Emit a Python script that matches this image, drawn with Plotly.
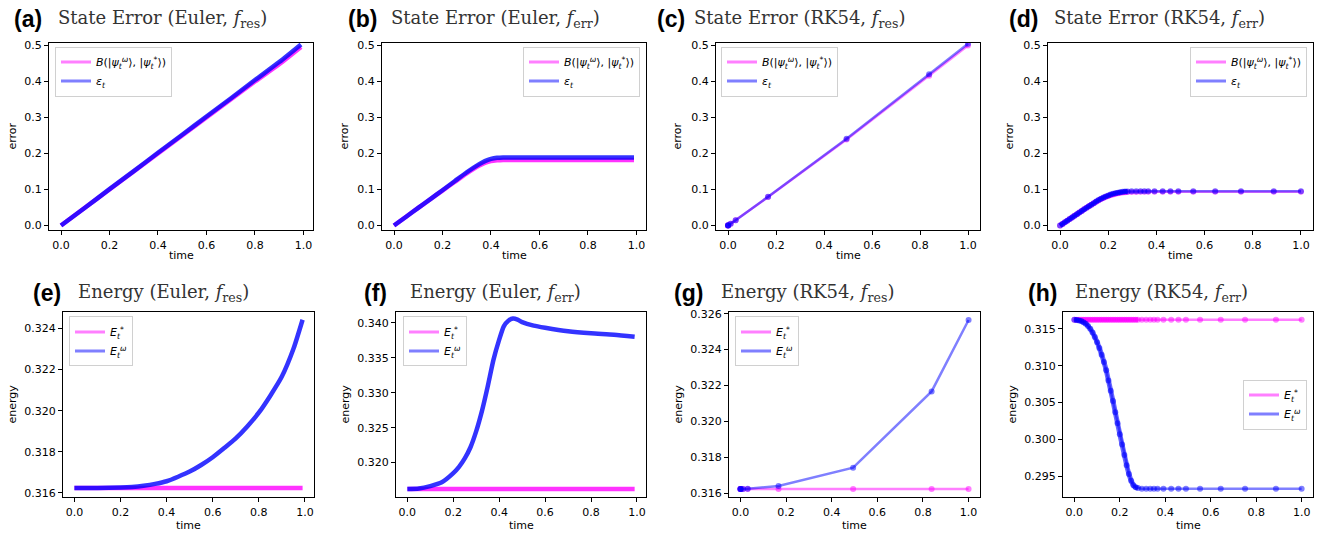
import plotly.graph_objects as go

W, H = 1335, 540

# ---------------- data ----------------
# (a) State error, Euler, f_res
t_a = [0.0, 0.1, 0.2, 0.3, 0.4, 0.5, 0.6, 0.7, 0.8, 0.9, 0.99]
B_a = [0.0, 0.050, 0.100, 0.150, 0.200, 0.250, 0.300, 0.350, 0.400, 0.448, 0.496]
eps_a = [0.0, 0.050, 0.101, 0.151, 0.202, 0.252, 0.303, 0.353, 0.404, 0.454, 0.503]

# (b) State error, Euler, f_err
t_b = [0.0, 0.05, 0.1, 0.15, 0.2, 0.25, 0.3, 0.35, 0.375, 0.4, 0.425, 0.45, 0.5, 0.6, 0.7, 0.8, 0.9, 0.99]
B_b = [0.0, 0.0245, 0.049, 0.073, 0.097, 0.121, 0.145, 0.166, 0.174, 0.179, 0.181, 0.182, 0.182, 0.182, 0.182, 0.182, 0.182, 0.182]
eps_b = [0.0, 0.0245, 0.049, 0.0735, 0.098, 0.123, 0.148, 0.170, 0.179, 0.185, 0.188, 0.189, 0.189, 0.189, 0.189, 0.189, 0.189, 0.189]

# (c) State error, RK54, f_res
t_c = [0.0, 0.0001, 0.0011, 0.0111, 0.032, 0.167, 0.494, 0.838, 1.0]
B_c = [0.0, 0.00005, 0.0005, 0.005, 0.0145, 0.079, 0.239, 0.416, 0.500]
eps_c = [0.0, 0.00005, 0.0005, 0.005, 0.0145, 0.080, 0.241, 0.420, 0.505]

# (d) State error, RK54, f_err  (first 29 steps are the densely stepped part)
t_d = [0.0, 0.01, 0.02, 0.03, 0.04, 0.05, 0.06, 0.07, 0.08, 0.09, 0.10, 0.11, 0.12, 0.13, 0.14,
       0.15, 0.16, 0.17, 0.18, 0.19, 0.20, 0.21, 0.22, 0.23, 0.24, 0.25, 0.26, 0.27, 0.28,
       0.297, 0.316, 0.334, 0.350, 0.366, 0.392, 0.426, 0.458, 0.491, 0.553, 0.644, 0.751, 0.887, 1.0]
B_d = [0.0, 0.0045, 0.009, 0.0135, 0.018, 0.0225, 0.027, 0.0315, 0.036, 0.0405, 0.045, 0.0494, 0.0537, 0.0579, 0.062,
       0.066, 0.0698, 0.0734, 0.0767, 0.0797, 0.0822, 0.0845, 0.0865, 0.0882, 0.0897, 0.0909, 0.0918, 0.0925, 0.0930,
       0.0933, 0.0934, 0.0935, 0.0935, 0.0935, 0.0935, 0.0935, 0.0935, 0.0935, 0.0935, 0.0935, 0.0935, 0.0935, 0.0935]
eps_d = [0.0, 0.0045, 0.009, 0.0135, 0.018, 0.0225, 0.027, 0.0315, 0.036, 0.0405, 0.045, 0.0494, 0.0537, 0.0579, 0.062,
         0.067, 0.0708, 0.0745, 0.0778, 0.0808, 0.0835, 0.0859, 0.0880, 0.0898, 0.0913, 0.0925, 0.0935, 0.0943, 0.0948,
         0.0952, 0.0954, 0.0955, 0.0955, 0.0955, 0.0955, 0.0955, 0.0955, 0.0955, 0.0955, 0.0955, 0.0955, 0.0955, 0.0955]

# (e) Energy, Euler, f_res
t_e = [0.0, 0.1, 0.2, 0.25, 0.3, 0.35, 0.4, 0.45, 0.5, 0.55, 0.6, 0.65, 0.7, 0.75, 0.8, 0.85, 0.9, 0.95, 0.99]
Estar_e = [0.31623] * 19
Ew_e = [0.31623, 0.31623, 0.31625, 0.31628, 0.31634, 0.31643, 0.31656, 0.31678, 0.31703, 0.31735, 0.31773,
        0.31818, 0.31865, 0.31923, 0.31990, 0.32073, 0.32166, 0.32300, 0.32443]

# (f) Energy, Euler, f_err
t_f = [0.0, 0.05, 0.1, 0.15, 0.2, 0.225, 0.25, 0.275, 0.3, 0.325, 0.35, 0.375, 0.4, 0.42, 0.44, 0.46,
       0.48, 0.5, 0.55, 0.6, 0.7, 0.8, 0.9, 0.99]
Estar_f = [0.31623] * 24
Ew_f = [0.31623, 0.31630, 0.31665, 0.31720, 0.31850, 0.31940, 0.32060, 0.32220, 0.32450, 0.32740, 0.33090,
        0.33470, 0.33760, 0.33950, 0.34030, 0.34060, 0.34045, 0.34010, 0.33960, 0.33930, 0.33880, 0.33850,
        0.33830, 0.33800]

# (g) Energy, RK54, f_res
t_g = t_c
Estar_g = [0.31623] * 9
Ew_g = [0.31623, 0.31623, 0.31623, 0.31623, 0.31624, 0.31640, 0.31742, 0.32167, 0.32565]

# (h) Energy, RK54, f_err
t_h = t_d
Estar_h = [0.31623] * 43
Ew_h = [0.31623, 0.31621, 0.31615, 0.31605, 0.31590, 0.31570, 0.31540, 0.31500, 0.31450, 0.31390, 0.31320,
        0.31240, 0.31150, 0.31050, 0.30940, 0.30800, 0.30660, 0.30520, 0.30370, 0.30220, 0.30070, 0.29930,
        0.29790, 0.29650, 0.29530, 0.29440, 0.29380, 0.29350, 0.29340, 0.29332, 0.29330, 0.29330, 0.29330,
        0.29330, 0.29330, 0.29330, 0.29330, 0.29330, 0.29330, 0.29330, 0.29330, 0.29330, 0.29330]

x_ticks = [0.0, 0.2, 0.4, 0.6, 0.8, 1.0]
y_ticks_err = [0.0, 0.1, 0.2, 0.3, 0.4, 0.5]
y_ticks_e = [0.316, 0.318, 0.320, 0.322, 0.324]
y_ticks_f = [0.315, 0.320, 0.325, 0.330, 0.335, 0.340]
y_ticks_g = [0.316, 0.318, 0.320, 0.322, 0.324, 0.326]
y_ticks_h = [0.295, 0.300, 0.305, 0.310, 0.315]

labels = ["(a)", "(b)", "(c)", "(d)", "(e)", "(f)", "(g)", "(h)"]
F_RES = "<i>f</i><sub>res</sub>"
F_ERR = "<i>f</i><sub>err</sub>"
titles = [f"State Error (Euler, {F_RES})", f"State Error (Euler, {F_ERR})",
          f"State Error (RK54, {F_RES})", f"State Error (RK54, {F_ERR})",
          f"Energy (Euler, {F_RES})", f"Energy (Euler, {F_ERR})",
          f"Energy (RK54, {F_RES})", f"Energy (RK54, {F_ERR})"]
name_B = "<i>B</i>(|<i>ψ</i><sub><i>t</i></sub><sup><i>ω</i></sup>⟩, |<i>ψ</i><sub><i>t</i></sub><sup>*</sup>⟩)"
name_eps = "<i>ε</i><sub><i>t</i></sub>"
name_Es = "<i>E</i><sub><i>t</i></sub><sup>*</sup>"
name_Ew = "<i>E</i><sub><i>t</i></sub><sup><i>ω</i></sup>"

# ---------------- layout geometry (pixels) ----------------
panels = [
    dict(px=(49, 313), py=(39, 229), xr=[-0.0495, 1.0395], yr=[-0.0137, 0.5082], yt=y_ticks_err, fmt=".1f",
         ylab="error", ylx=13, lab_x=12, tit_x=56, leg=(55, 43, "left", "top")),
    dict(px=(382, 646), py=(39, 229), xr=[-0.0495, 1.0395], yr=[-0.0137, 0.5082], yt=y_ticks_err, fmt=".1f",
         ylab="error", ylx=345, lab_x=346, tit_x=389, leg=(640, 43, "right", "top")),
    dict(px=(716, 980), py=(39, 229), xr=[-0.05, 1.05], yr=[-0.0137, 0.5082], yt=y_ticks_err, fmt=".1f",
         ylab="error", ylx=678, lab_x=655, tit_x=692, leg=(721, 43, "left", "top")),
    dict(px=(1048, 1313), py=(39, 229), xr=[-0.05, 1.05], yr=[-0.0137, 0.5082], yt=y_ticks_err, fmt=".1f",
         ylab="error", ylx=1010, lab_x=1007, tit_x=1052, leg=(1307, 43, "right", "top")),
    dict(px=(63, 314), py=(311, 499), xr=[-0.0495, 1.0395], yr=[0.31577, 0.32483], yt=y_ticks_e, fmt=".3f",
         ylab="energy", ylx=12, lab_x=31, tit_x=76, leg=(69, 316, "left", "top")),
    dict(px=(396, 646), py=(311, 499), xr=[-0.0495, 1.0395], yr=[0.31502, 0.34161], yt=y_ticks_f, fmt=".3f",
         ylab="energy", ylx=345, lab_x=362, tit_x=408, leg=(403, 316, "left", "top")),
    dict(px=(729, 980), py=(311, 499), xr=[-0.05, 1.05], yr=[0.31576, 0.32612], yt=y_ticks_g, fmt=".3f",
         ylab="energy", ylx=678, lab_x=672, tit_x=719, leg=(735, 316, "left", "top")),
    dict(px=(1063, 1313), py=(311, 499), xr=[-0.05, 1.05], yr=[0.29213, 0.31735], yt=y_ticks_h, fmt=".3f",
         ylab="energy", ylx=1012, lab_x=1026, tit_x=1073, leg=(1307, 405, "right", "middle")),
]

# (t, series1, series2, kind, legend names, number of densely stepped leading points)
series = [
    (t_a, B_a, eps_a, "euler", name_B, name_eps, 0),
    (t_b, B_b, eps_b, "euler", name_B, name_eps, 0),
    (t_c, B_c, eps_c, "rk", name_B, name_eps, 0),
    (t_d, B_d, eps_d, "rk", name_B, name_eps, 29),
    (t_e, Estar_e, Ew_e, "euler", name_Es, name_Ew, 0),
    (t_f, Estar_f, Ew_f, "euler", name_Es, name_Ew, 0),
    (t_g, Estar_g, Ew_g, "rk", name_Es, name_Ew, 0),
    (t_h, Estar_h, Ew_h, "rk", name_Es, name_Ew, 29),
]

PINK = "255,0,255"
BLUE = "0,0,255"
TICKFONT = dict(family="DejaVu Sans", size=11, color="black")

fig = go.Figure()
layout = dict(width=W, height=H, margin=dict(l=0, r=0, t=0, b=0),
              paper_bgcolor="white", plot_bgcolor="white", showlegend=True)
annotations = []

for i, (p, s) in enumerate(zip(panels, series), start=1):
    xa = "x" if i == 1 else f"x{i}"
    ya = "y" if i == 1 else f"y{i}"
    lg = "legend" if i == 1 else f"legend{i}"
    t, s1, s2, kind, n1, n2, nd = s
    for vals, col in ((s1, PINK), (s2, BLUE)):
        if kind == "euler":
            fig.add_trace(go.Scatter(x=t, y=vals, xaxis=xa, yaxis=ya, mode="lines",
                                     line=dict(color=f"rgba({col},0.8)", width=4.5, shape="spline", smoothing=0.6),
                                     showlegend=False, hoverinfo="skip"))
        else:
            fig.add_trace(go.Scatter(x=t, y=vals, xaxis=xa, yaxis=ya, mode="lines+markers",
                                     line=dict(color=f"rgba({col},0.5)", width=2.5),
                                     marker=dict(color=f"rgba({col},0.5)", size=6, line=dict(width=0)),
                                     showlegend=False, hoverinfo="skip"))
            if nd:
                # densely stepped part appears as a solid band of overlapping markers
                fig.add_trace(go.Scatter(x=t[:nd], y=vals[:nd], xaxis=xa, yaxis=ya, mode="lines",
                                         line=dict(color=f"rgba({col},0.6)", width=5, shape="spline", smoothing=0.5),
                                         showlegend=False, hoverinfo="skip"))
    # legend-only entries
    for name, col in ((n1, PINK), (n2, BLUE)):
        fig.add_trace(go.Scatter(x=[None], y=[None], xaxis=xa, yaxis=ya, mode="lines", name=name,
                                 line=dict(color=f"rgba({col},0.5)", width=3), legend=lg, hoverinfo="skip"))

    x0, x1 = p["px"]
    y0, y1 = p["py"]
    layout["xaxis" if i == 1 else f"xaxis{i}"] = dict(
        domain=[x0 / W, x1 / W], range=p["xr"], anchor=ya, tickvals=x_ticks, tickformat=".1f",
        showline=True, mirror=True, linecolor="black", linewidth=1, ticks="outside", ticklen=4,
        tickcolor="black", showgrid=False, zeroline=False, tickfont=TICKFONT, fixedrange=True)
    layout["yaxis" if i == 1 else f"yaxis{i}"] = dict(
        domain=[1 - y1 / H, 1 - y0 / H], range=p["yr"], anchor=xa, tickvals=p["yt"], tickformat=p["fmt"],
        showline=True, mirror=True, linecolor="black", linewidth=1, ticks="outside", ticklen=4,
        tickcolor="black", showgrid=False, zeroline=False, tickfont=TICKFONT, fixedrange=True)
    lx, ly, xanc, yanc = p["leg"]
    layout[lg] = dict(x=lx / W, y=1 - ly / H, xanchor=xanc, yanchor=yanc, xref="paper", yref="paper",
                      bgcolor="rgba(255,255,255,0.8)", bordercolor="#d0d0d0", borderwidth=1,
                      font=dict(family="DejaVu Sans", size=11, color="black"),
                      itemwidth=30, tracegroupgap=0)

    row_title_y = 15 if y0 < 100 else 292
    annotations.append(dict(text="<b>" + labels[i - 1] + "</b>", x=p["lab_x"] / W, y=1 - row_title_y / H,
                            xref="paper", yref="paper", xanchor="left", yanchor="middle", showarrow=False,
                            font=dict(family="Liberation Sans", size=23, color="black")))
    annotations.append(dict(text=titles[i - 1], x=p["tit_x"] / W, y=1 - row_title_y / H,
                            xref="paper", yref="paper", xanchor="left", yanchor="middle", showarrow=False,
                            font=dict(family="DejaVu Serif", size=18, color="#333333")))
    xlab_y = 254 if y0 < 100 else 527
    annotations.append(dict(text="time", x=(x0 + x1) / 2 / W, y=1 - xlab_y / H, xref="paper", yref="paper",
                            xanchor="center", yanchor="middle", showarrow=False, font=TICKFONT))
    annotations.append(dict(text=p["ylab"], x=p["ylx"] / W, y=1 - (y0 + y1) / 2 / H, xref="paper", yref="paper",
                            xanchor="center", yanchor="middle", showarrow=False, textangle=-90, font=TICKFONT))

layout["annotations"] = annotations
fig.update_layout(**layout)
fig.write_html("out.html", config={"displayModeBar": False},
               post_script="document.body.style.margin='0';document.body.style.overflow='hidden';")
